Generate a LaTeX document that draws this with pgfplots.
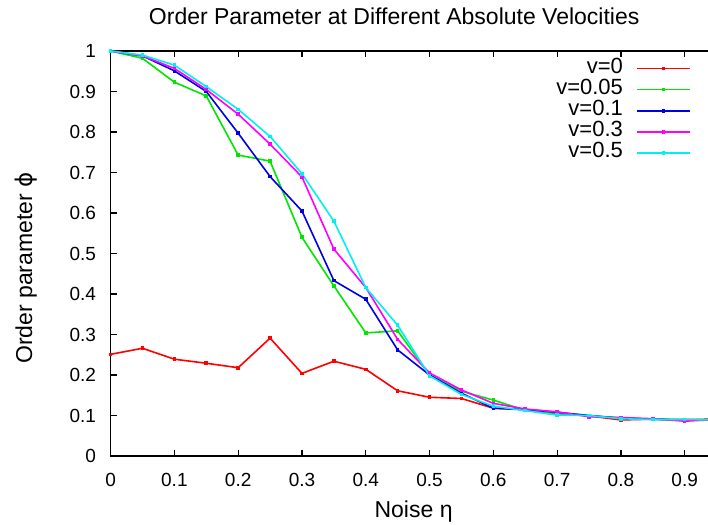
\documentclass[border=0pt]{standalone}
\usepackage{fontspec}
\setmainfont{Liberation Sans}
\newfontfamily\dvfont{DejaVu Sans}
\usepackage{pgfplots}
\usepackage{pgfplotstable}
\pgfplotsset{compat=1.18}
\definecolor{gpred}{RGB}{255,0,0}
\definecolor{gpgreen}{RGB}{0,230,0}
\definecolor{gpblue}{RGB}{0,0,230}
\definecolor{gpmag}{RGB}{255,0,255}
\definecolor{gpcyan}{RGB}{0,240,240}
\pgfplotstableread{
eta   v0     v005   v01    v03    v05
0.00  0.251  1.000  1.000  1.000  1.000
0.05  0.266  0.982  0.988  0.988  0.990
0.10  0.239  0.923  0.951  0.957  0.965
0.15  0.229  0.889  0.900  0.905  0.912
0.20  0.218  0.743  0.797  0.844  0.856
0.25  0.291  0.728  0.690  0.770  0.789
0.30  0.204  0.540  0.605  0.689  0.697
0.35  0.234  0.420  0.433  0.511  0.580
0.40  0.214  0.304  0.387  0.416  0.416
0.45  0.161  0.309  0.262  0.288  0.323
0.50  0.145  0.200  0.200  0.205  0.198
0.55  0.142  0.160  0.155  0.163  0.152
0.60  0.118  0.138  0.118  0.130  0.123
0.65  0.114  0.113  0.115  0.116  0.112
0.70  0.105  0.106  0.108  0.109  0.101
0.75  0.099  0.100  0.100  0.097  0.100
0.80  0.089  0.094  0.093  0.095  0.092
0.85  0.091  0.091  0.091  0.092  0.090
0.90  0.090  0.089  0.088  0.086  0.090
0.95  0.091  0.090  0.090  0.090  0.089
}\datatable
\begin{document}
\begin{tikzpicture}
\useasboundingbox (-55.3pt,-34.5pt) rectangle (298.7pt,228pt);
\begin{axis}[
  at={(0,0)}, anchor=south west,
  scale only axis, width=303pt, height=202.5pt,
  xmin=0, xmax=0.95, ymin=0, ymax=1,
  xtick={0,0.1,0.2,0.3,0.4,0.5,0.6,0.7,0.8,0.9},
  ytick={0,0.1,0.2,0.3,0.4,0.5,0.6,0.7,0.8,0.9,1},
  tick align=inside, major tick length=3pt,
  /pgf/number format/assume math mode=true,
  tick label style={font=\fontsize{9.5}{11}\selectfont},
  xticklabel style={yshift=-5.3pt},
  yticklabel style={xshift=-3.8pt},
  axis line style={line width=0.6pt},
  every tick/.style={black, line width=0.6pt},
  title={Order Parameter at Different Absolute Velocities},
  title style={at={(axis description cs:0.468,1.055)}, anchor=center, yshift=0pt, font=\fontsize{11.5}{13}\selectfont},
  xlabel={Noise η},
  xlabel style={at={(axis description cs:0.5,-0.137)}, anchor=center, font=\fontsize{11.5}{13}\selectfont},
  ylabel={Order parameter {\dvfont ϕ}},
  ylabel style={at={(axis description cs:-0.14,0.464)}, anchor=center, font=\fontsize{11.5}{13}\selectfont},
  legend plot pos=right,
  legend cell align=right,
  legend image code/.code={\draw[mark repeat=2,mark phase=2,#1] plot coordinates {(0pt,0pt) (13.25pt,0pt) (26.5pt,0pt)};},
  legend style={at={(axis description cs:0.958,0.984)}, anchor=north east, draw=none, fill=none, inner sep=0pt,
    font=\fontsize{11}{11}\selectfont, column sep=6.6pt, row sep=0pt,
    nodes={inner sep=0pt, text height=7.6pt, text depth=3pt}},
  every axis plot/.append style={line width=0.8pt, mark=square*, mark size=0.5pt},
]
\addplot[gpred, mark options={fill=gpred}] table[x=eta,y=v0] {\datatable};
\addlegendentry{v=0}
\addplot[gpgreen, mark options={fill=gpgreen}] table[x=eta,y=v005] {\datatable};
\addlegendentry{v=0.05}
\addplot[gpblue, mark options={fill=gpblue}] table[x=eta,y=v01] {\datatable};
\addlegendentry{v=0.1}
\addplot[gpmag, mark options={fill=gpmag}] table[x=eta,y=v03] {\datatable};
\addlegendentry{v=0.3}
\addplot[gpcyan, mark options={fill=gpcyan}] table[x=eta,y=v05] {\datatable};
\addlegendentry{v=0.5}
\end{axis}
\end{tikzpicture}
\end{document}
